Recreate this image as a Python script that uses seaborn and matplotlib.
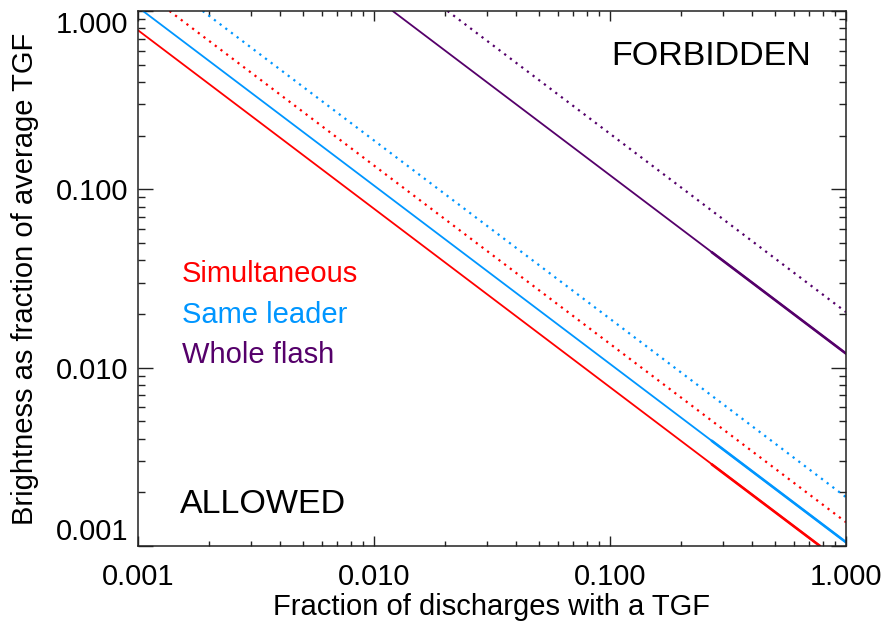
import pandas as pd
import seaborn as sns
import matplotlib.pyplot as plt
from matplotlib.ticker import LogLocator, NullFormatter

# Puntos extremos (cada curva es una recta en log-log)
x_sim = [0.001, 0.776]
y_sim = [0.78, 0.001]
x_sim_dot = [0.00136, 1.0]
y_sim_dot = [1.0, 0.00136]

x_lead = [0.001, 1.0]
y_lead = [1.05, 0.00105]
x_lead_dot = [0.00188, 1.0]
y_lead_dot = [1.0, 0.00188]

x_flash = [0.012, 1.0]
y_flash = [1.0, 0.012]
x_flash_dot = [0.0205, 1.0]
y_flash_dot = [1.0, 0.0205]

# tramo donde las lineas solidas se ven mas gruesas (muchos puntos)
x_sim_thick = [0.27, 0.776]
y_sim_thick = [0.00287, 0.001]
x_lead_thick = [0.27, 1.0]
y_lead_thick = [0.00389, 0.00105]
x_flash_thick = [0.27, 1.0]
y_flash_thick = [0.0444, 0.012]

series_names = ['Simultaneous', 'Same leader', 'Whole flash']
series_colors = ['#ff0000', '#0096ff', '#55006a']
ticks = [0.001, 0.01, 0.1, 1.0]
tick_labels = ['0.001', '0.010', '0.100', '1.000']

sns.set_theme(style='ticks')
plt.rcParams['font.family'] = ['Liberation Sans', 'DejaVu Sans']
plt.rcParams['text.color'] = 'black'
plt.rcParams['axes.labelcolor'] = 'black'
plt.rcParams['xtick.color'] = 'black'
plt.rcParams['ytick.color'] = 'black'

fig = plt.figure(figsize=(8.85, 6.24), dpi=100)
ax = fig.add_axes([0.1559, 0.125, 0.8, 0.8574])

solidas = [(x_sim, y_sim), (x_lead, y_lead), (x_flash, y_flash)]
punteadas = [(x_sim_dot, y_sim_dot), (x_lead_dot, y_lead_dot), (x_flash_dot, y_flash_dot)]
gruesas = [(x_sim_thick, y_sim_thick), (x_lead_thick, y_lead_thick), (x_flash_thick, y_flash_thick)]

for (xs, ys), (xd, yd), (xg, yg), color in zip(solidas, punteadas, gruesas, series_colors):
    df = pd.DataFrame({'x': xs, 'y': ys})
    sns.lineplot(x='x', y='y', data=df, ax=ax, color=color, lw=1.3)
    dg = pd.DataFrame({'x': xg, 'y': yg})
    sns.lineplot(x='x', y='y', data=dg, ax=ax, color=color, lw=1.9)
    dd = pd.DataFrame({'x': xd, 'y': yd})
    sns.lineplot(x='x', y='y', data=dd, ax=ax, color=color, lw=1.6,
                 linestyle=(0, (1, 2.2)))

ax.set_xscale('log')
ax.set_yscale('log')
ax.set_xlim(0.001, 1.0)
ax.set_ylim(0.001, 1.0)

ax.set_xticks(ticks, tick_labels)
ax.set_yticks(ticks, tick_labels)
ax.xaxis.set_minor_locator(LogLocator(base=10, subs=range(2, 10)))
ax.yaxis.set_minor_locator(LogLocator(base=10, subs=range(2, 10)))
ax.xaxis.set_minor_formatter(NullFormatter())
ax.yaxis.set_minor_formatter(NullFormatter())

ax.tick_params(axis='both', which='both', direction='in', top=True, right=True,
               colors='#222222', width=1.0, labelcolor='black', labelsize=21)
ax.tick_params(axis='x', which='major', length=7.2, pad=12)
ax.tick_params(axis='x', which='minor', length=3.6)
ax.tick_params(axis='y', which='major', length=10.5, pad=7)
ax.tick_params(axis='y', which='minor', length=5.2)

ylabs = ax.get_yticklabels()
ylabs[0].set_va('bottom')
ylabs[-1].set_va('top')

for s in ax.spines.values():
    s.set_linewidth(1.1)
    s.set_color('#222222')

ax.set_xlabel('Fraction of discharges with a TGF', fontsize=21, labelpad=2, color='black')
ax.set_ylabel('Brightness as fraction of average TGF', fontsize=21, labelpad=12, color='black')

# leyenda hecha con texto de colores
for i, (name, color) in enumerate(zip(series_names, series_colors)):
    ax.text(0.062, 0.493 - i * 0.0755, name, color=color, fontsize=21,
            transform=ax.transAxes, va='baseline', ha='left')

ax.text(0.668, 0.899, 'FORBIDDEN', fontsize=24.5, color='black',
        transform=ax.transAxes, va='baseline', ha='left')
ax.text(0.059, 0.062, 'ALLOWED', fontsize=24.5, color='black',
        transform=ax.transAxes, va='baseline', ha='left')

plt.savefig('out.png', dpi=100)
